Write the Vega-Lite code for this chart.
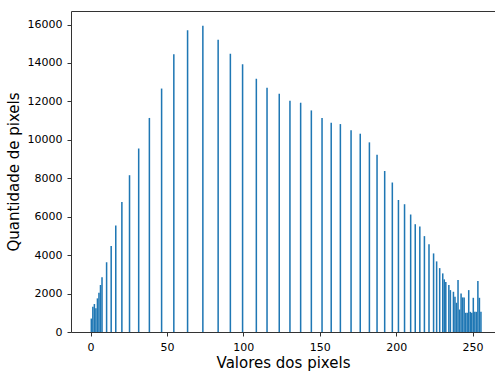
{
  "$schema": "https://vega.github.io/schema/vega-lite/v6.json",
  "width": 424,
  "height": 321,
  "autosize": {"type": "none"},
  "padding": {"left": 71, "top": 11, "right": 0, "bottom": 40},
  "background": "white",
  "config": {
    "view": {"stroke": null},
    "font": "DejaVu Sans",
    "axis": {
      "grid": false,
      "domainColor": "#333333",
      "domainWidth": 1,
      "tickColor": "#333333",
      "tickSize": 4,
      "labelColor": "#000000",
      "labelFont": "DejaVu Sans",
      "labelFontSize": 11,
      "labelPadding": 5,
      "titleColor": "#000000",
      "titleFont": "DejaVu Sans",
      "titleFontSize": 15,
      "titleFontWeight": "normal"
    }
  },
  "data": {
    "values": [
      {"lo": 0, "hi": 1, "n": 700},
      {"lo": 1, "hi": 2, "n": 1320},
      {"lo": 2, "hi": 3, "n": 1455},
      {"lo": 3, "hi": 4, "n": 1230},
      {"lo": 4, "hi": 5, "n": 1750},
      {"lo": 5, "hi": 6, "n": 2045},
      {"lo": 6, "hi": 7, "n": 2445},
      {"lo": 7, "hi": 8, "n": 2845},
      {"lo": 10, "hi": 11, "n": 3630},
      {"lo": 13, "hi": 14, "n": 4470},
      {"lo": 16, "hi": 17, "n": 5540},
      {"lo": 20, "hi": 21, "n": 6770},
      {"lo": 25, "hi": 26, "n": 8160},
      {"lo": 31, "hi": 32, "n": 9550},
      {"lo": 38, "hi": 39, "n": 11140},
      {"lo": 46, "hi": 47, "n": 12670},
      {"lo": 54, "hi": 55, "n": 14450},
      {"lo": 63, "hi": 64, "n": 15710},
      {"lo": 73, "hi": 74, "n": 15935},
      {"lo": 83, "hi": 84, "n": 15205},
      {"lo": 91, "hi": 92, "n": 14476},
      {"lo": 99, "hi": 100, "n": 13940},
      {"lo": 108, "hi": 109, "n": 13180},
      {"lo": 115, "hi": 116, "n": 12711},
      {"lo": 123, "hi": 124, "n": 12400},
      {"lo": 130, "hi": 131, "n": 12036},
      {"lo": 137, "hi": 138, "n": 11932},
      {"lo": 144, "hi": 145, "n": 11532},
      {"lo": 151, "hi": 152, "n": 11133},
      {"lo": 157, "hi": 158, "n": 10893},
      {"lo": 163, "hi": 164, "n": 10821},
      {"lo": 170, "hi": 171, "n": 10494},
      {"lo": 176, "hi": 177, "n": 10320},
      {"lo": 182, "hi": 183, "n": 9870},
      {"lo": 187, "hi": 188, "n": 9231},
      {"lo": 192, "hi": 193, "n": 8380},
      {"lo": 197, "hi": 198, "n": 7780},
      {"lo": 201, "hi": 202, "n": 6870},
      {"lo": 205, "hi": 206, "n": 6650},
      {"lo": 209, "hi": 210, "n": 6115},
      {"lo": 212, "hi": 213, "n": 5610},
      {"lo": 215, "hi": 216, "n": 5490},
      {"lo": 218, "hi": 219, "n": 4990},
      {"lo": 221, "hi": 222, "n": 4570},
      {"lo": 224, "hi": 225, "n": 4090},
      {"lo": 226, "hi": 227, "n": 3675},
      {"lo": 228, "hi": 229, "n": 3325},
      {"lo": 230, "hi": 231, "n": 3050},
      {"lo": 231, "hi": 232, "n": 2740},
      {"lo": 232, "hi": 233, "n": 2600},
      {"lo": 234, "hi": 235, "n": 2440},
      {"lo": 235, "hi": 236, "n": 2180},
      {"lo": 237, "hi": 238, "n": 2094},
      {"lo": 238, "hi": 239, "n": 1834},
      {"lo": 239, "hi": 240, "n": 1522},
      {"lo": 240, "hi": 241, "n": 2700},
      {"lo": 241, "hi": 242, "n": 1170},
      {"lo": 242, "hi": 243, "n": 2005},
      {"lo": 243, "hi": 244, "n": 1800},
      {"lo": 244, "hi": 245, "n": 1800},
      {"lo": 245, "hi": 246, "n": 1000},
      {"lo": 246, "hi": 247, "n": 1000},
      {"lo": 247, "hi": 248, "n": 2180},
      {"lo": 248, "hi": 249, "n": 1050},
      {"lo": 249, "hi": 250, "n": 1000},
      {"lo": 250, "hi": 251, "n": 1780},
      {"lo": 251, "hi": 252, "n": 1050},
      {"lo": 252, "hi": 253, "n": 1050},
      {"lo": 253, "hi": 254, "n": 2650},
      {"lo": 254, "hi": 255, "n": 1780},
      {"lo": 255, "hi": 256, "n": 1050}
    ]
  },
  "layer": [
    {
      "mark": {"type": "bar", "color": "#1f77b4"},
      "encoding": {
        "x": {
          "field": "lo",
          "type": "quantitative",
          "scale": {"domain": [-12.8, 264.7], "nice": false, "zero": false},
          "axis": {
            "orient": "bottom",
            "values": [0, 50, 100, 150, 200, 250],
            "format": "d",
            "title": "Valores dos pixels",
            "titlePadding": 3
          }
        },
        "x2": {"field": "hi"},
        "y": {
          "field": "n",
          "type": "quantitative",
          "scale": {"domain": [0, 16706], "nice": false, "zero": true},
          "axis": {
            "values": [0, 2000, 4000, 6000, 8000, 10000, 12000, 14000, 16000],
            "format": "d",
            "title": "Quantidade de pixels",
            "titlePadding": 6
          }
        },
        "y2": {"datum": 0}
      }
    },
    {
      "mark": {"type": "bar", "opacity": 0},
      "encoding": {
        "x": {
          "field": "lo",
          "type": "quantitative",
          "axis": {"orient": "top", "labels": false, "ticks": false, "title": null, "domain": true}
        },
        "x2": {"field": "hi"},
        "y": {"field": "n", "type": "quantitative"},
        "y2": {"datum": 0}
      }
    }
  ],
  "resolve": {"axis": {"x": "independent"}}
}
